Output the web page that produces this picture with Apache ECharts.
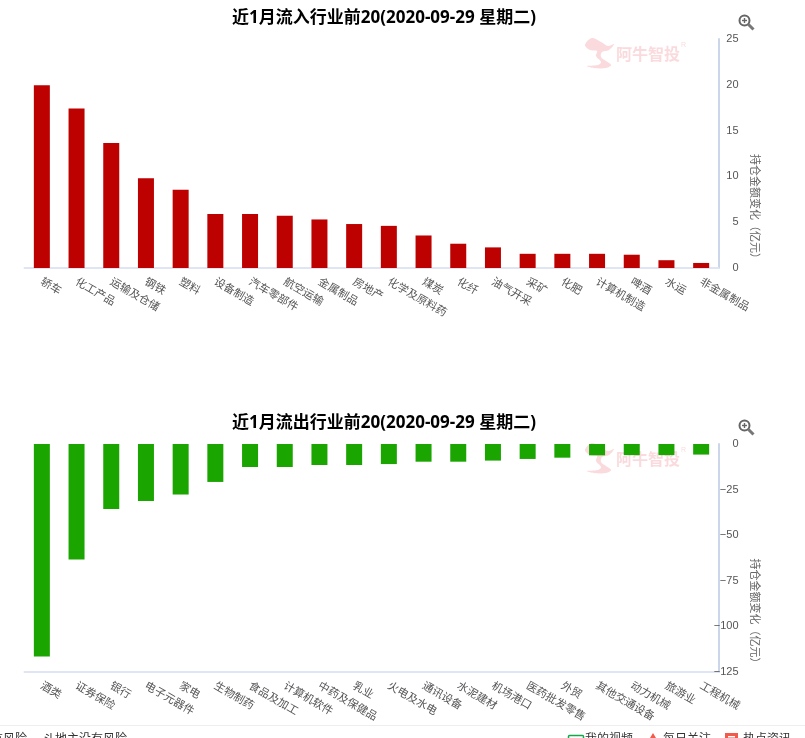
<!DOCTYPE html>
<html>
<head>
<meta charset="utf-8">
<style>html,body{margin:0;padding:0;background:#fff;overflow:hidden}#c{width:805px;height:738px}</style>
<script src="https://cdn.jsdelivr.net/npm/echarts@6/dist/echarts.min.js"></script>
</head>
<body>
<div id="c"></div>
<script>
const inflowTitle = '近1月流入行业前20(2020-09-29 星期二)';
const outflowTitle = '近1月流出行业前20(2020-09-29 星期二)';
const axisName = '持仓金额变化（亿元）';
const inflowCategories = ['轿车','化工产品','运输及仓储','钢铁','塑料','设备制造','汽车零部件','航空运输','金属制品','房地产','化学及原料药','煤炭','化纤','油气开采','采矿','化肥','计算机制造','啤酒','水运','非金属制品'];
const inflowValues = [19.95,17.4,13.65,9.8,8.55,5.9,5.9,5.7,5.3,4.8,4.6,3.55,2.65,2.25,1.55,1.55,1.55,1.45,0.85,0.55];
const outflowCategories = ['酒类','证券保险','银行','电子元器件','家电','生物制药','食品及加工','计算机软件','中药及保健品','乳业','火电及水电','通讯设备','水泥建材','机场港口','医药批发零售','外贸','其他交通设备','动力机械','旅游业','工程机械'];
const outflowValues = [-116.5,-63.3,-35.6,-31.2,-27.7,-20.8,-12.6,-12.6,-11.5,-11.5,-11,-9.7,-9.7,-9.1,-8.2,-7.5,-6.2,-6.1,-6.1,-5.8];
const footerLeft = ['有风险','斗地主没有风险'];
const footerRight = ['我的视频','每日关注','热点资讯'];

const FONT = '"Open Sans","Noto Sans CJK SC",sans-serif';
const CJK = '"Noto Sans CJK SC",sans-serif';
const MARK = 'rgba(230,70,80,0.2)';

function xAxis(i, cats) {
  return {
    type:'category', gridIndex:i, data:cats, position:'bottom',
    axisLine:{onZero:false,lineStyle:{color:'#dfe5f5',width:2}},
    axisTick:{show:false},
    axisLabel:{interval:0,rotate:-30,color:'#555',fontSize:11,fontFamily:CJK,margin:12}
  };
}
function yAxis(i, min, max, step, gap) {
  return {
    type:'value', gridIndex:i, position:'right', min:min, max:max, interval:step,
    splitLine:{show:false},
    axisLine:{show:true,lineStyle:{color:'#ccd6eb',width:2}},
    axisTick:{show:false},
    axisLabel:{color:'#555',fontSize:11,fontFamily:'"Liberation Sans",sans-serif',margin:20,align:'right',padding:[3,0,0,0],
      formatter:function(v){return String(v).replace('-','−');}},
    name:axisName, nameLocation:'middle', nameRotate:-90, nameGap:gap,
    nameTextStyle:{color:'#666',fontSize:11,fontFamily:CJK,padding:[0,0,0,111]}
  };
}
function watermark(y) {
  return {
    type:'group', left:585, top:y, silent:true, children:[
      {type:'polygon',shape:{smooth:0.35,points:[[1,7],[8,0],[17,4],[24,8],[30,6],[25,12],[18,14],[17,19],[22,23],[27,27],[22,30],[10,30],[3,28],[14,27],[17,24],[12,18],[13,13],[6,12]]},style:{fill:MARK}},
      {type:'text',x:32,y:8,style:{text:'阿牛智投',fill:MARK,font:'bold 16px "Noto Sans CJK SC",sans-serif'}},
      {type:'text',x:97,y:4,style:{text:'R',fill:MARK,font:'7px "Liberation Sans",sans-serif'}}
    ]
  };
}
function zoomIcon(y) {
  return {
    type:'group', left:737, top:y, silent:true, children:[
      {type:'circle',shape:{cx:6,cy:6,r:5},style:{fill:'none',stroke:'#666',lineWidth:2}},
      {type:'line',shape:{x1:3.5,y1:6,x2:8.5,y2:6},style:{stroke:'#666',lineWidth:1.4}},
      {type:'line',shape:{x1:6,y1:3.5,x2:6,y2:8.5},style:{stroke:'#666',lineWidth:1.4}},
      {type:'line',shape:{x1:10,y1:10,x2:15,y2:15},style:{stroke:'#777',lineWidth:3}}
    ]
  };
}
function footText(x, t) {
  return {type:'text',left:x,top:732,silent:true,style:{text:t,fill:'#333',font:'12px "Noto Sans CJK SC",sans-serif'}};
}

const option = {
  animation:false,
  backgroundColor:'#fff',
  title:[
    {text:inflowTitle,left:379,top:5,textAlign:'center',textStyle:{fontSize:17,fontWeight:'bold',color:'#000',fontFamily:FONT}},
    {text:outflowTitle,left:379,top:410,textAlign:'center',textStyle:{fontSize:17,fontWeight:'bold',color:'#000',fontFamily:FONT}}
  ],
  grid:[
    {left:24.5,right:86.5,top:39,height:229},
    {left:24.5,right:86.5,top:444,height:228}
  ],
  xAxis:[xAxis(0,inflowCategories),xAxis(1,outflowCategories)],
  yAxis:[yAxis(0,0,25,5,14),yAxis(1,-125,0,25,3)],
  series:[
    {type:'bar',xAxisIndex:0,yAxisIndex:0,data:inflowValues,barWidth:16,itemStyle:{color:'#bd0000'}},
    {type:'bar',xAxisIndex:1,yAxisIndex:1,data:outflowValues,barWidth:16,itemStyle:{color:'#1ba500'}}
  ],
  graphic:[
    watermark(38),watermark(443),zoomIcon(13),zoomIcon(418),
    {type:'rect',left:0,top:725,silent:true,shape:{width:805,height:1},style:{fill:'#eeeeee'}},
    footText(-9,footerLeft[0]),footText(43,footerLeft[1]),
    {type:'rect',left:566,top:733,silent:true,shape:{width:15,height:12,r:1},style:{fill:'none',stroke:'#12a84a',lineWidth:1.5}},
    footText(585,footerRight[0]),
    {type:'polygon',left:647,top:733,silent:true,shape:{points:[[0,10],[6,0],[12,10]]},style:{fill:'#f25b4c'}},
    footText(663,footerRight[1]),
    {type:'rect',left:725,top:733,silent:true,shape:{width:13,height:10},style:{fill:'#f25b4c'}},
    {type:'rect',left:728,top:736,silent:true,shape:{width:7,height:1.5},style:{fill:'#fff'}},
    footText(743,footerRight[2])
  ]
};
echarts.init(document.getElementById('c')).setOption(option);
</script>
</body>
</html>
